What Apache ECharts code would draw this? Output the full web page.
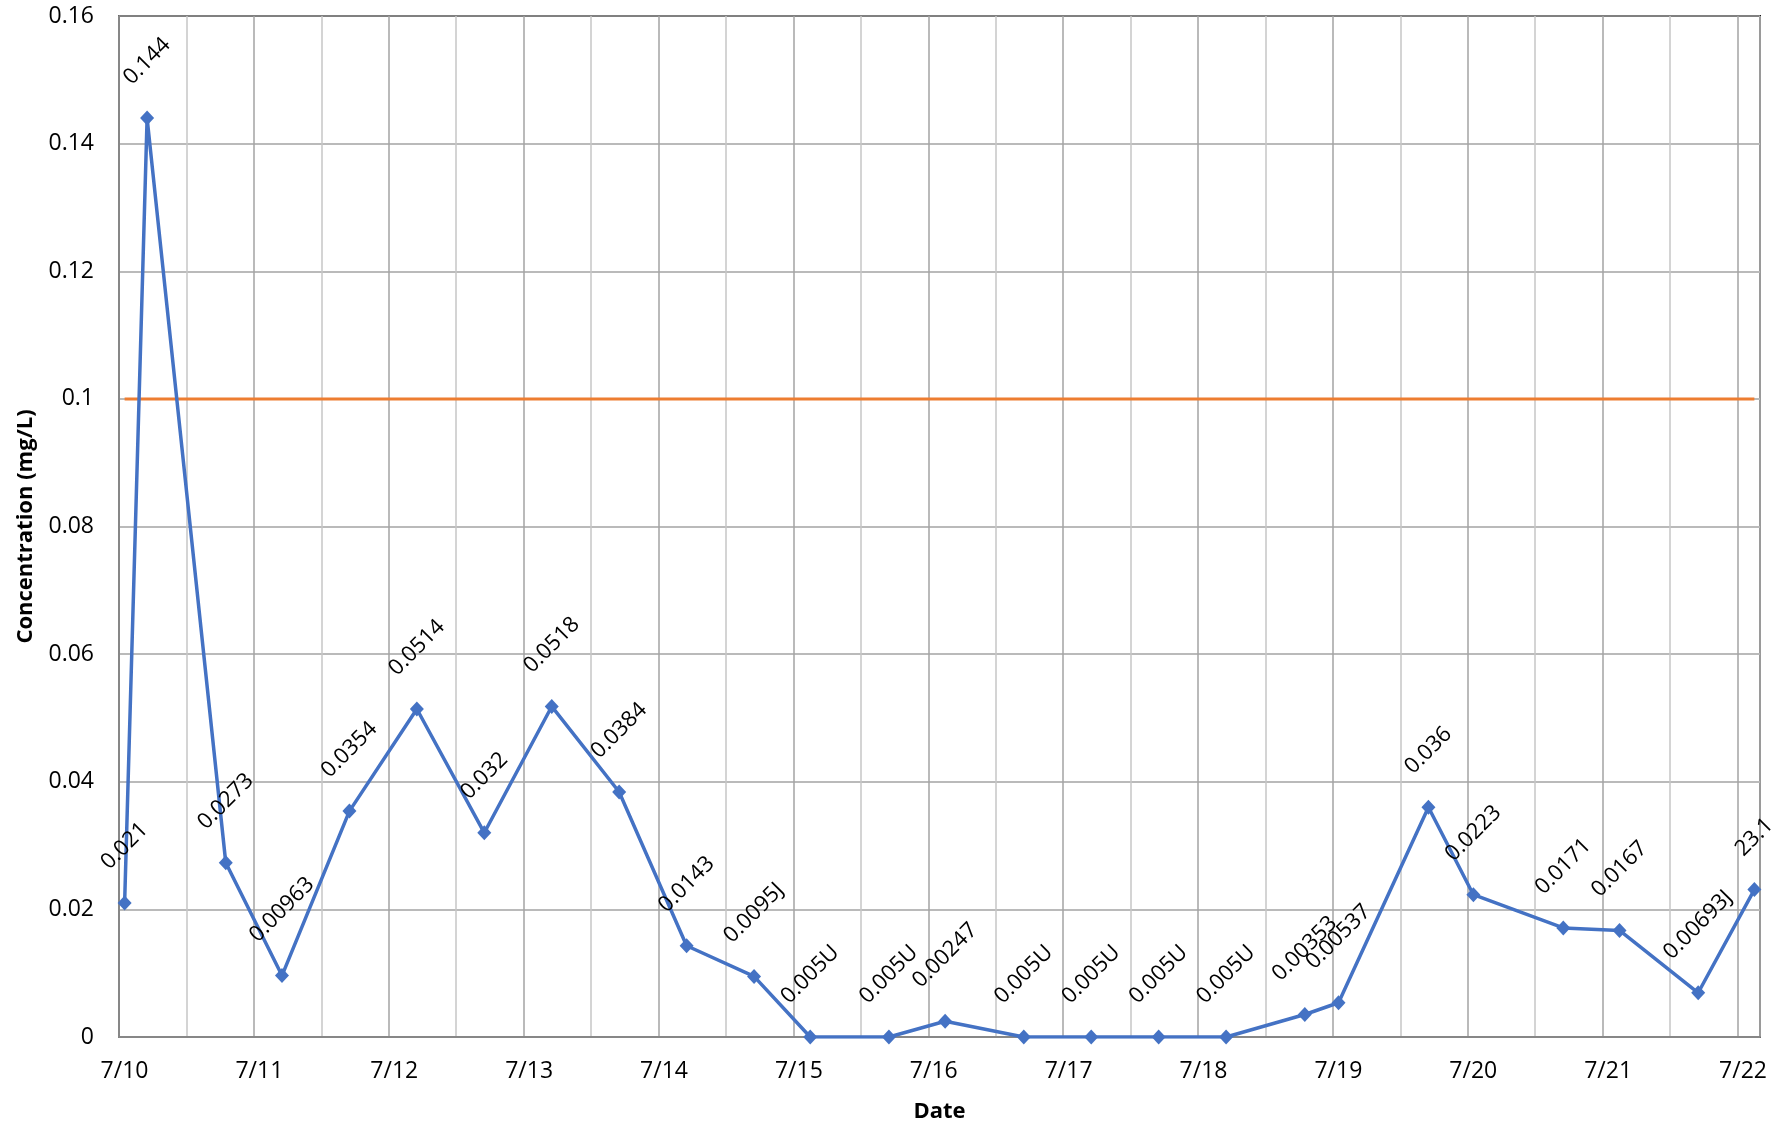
<!DOCTYPE html>
<html>
<head>
<meta charset="utf-8">
<title>Concentration by Date</title>
<script src="https://cdn.jsdelivr.net/npm/echarts@6/dist/echarts.min.js"></script>
<style>
  html, body { margin: 0; padding: 0; background: #ffffff; }
  #chart { width: 1783px; height: 1126px; }
</style>
</head>
<body>
<div id="chart"></div>
<script>
// Sample collection times (month/day hour:minute)
const sampleTimes = [
  '7/10 01:00', '7/10 05:00', '7/10 19:00', '7/11 05:00', '7/11 17:00',
  '7/12 05:00', '7/12 17:00', '7/13 05:00', '7/13 17:00', '7/14 05:00',
  '7/14 17:00', '7/15 03:00', '7/15 17:00', '7/16 03:00', '7/16 17:00',
  '7/17 05:00', '7/17 17:00', '7/18 05:00', '7/18 19:00', '7/19 01:00',
  '7/19 17:00', '7/20 01:00', '7/20 17:00', '7/21 03:00', '7/21 17:00',
  '7/22 03:00'
];

// Plotted concentrations (mg/L); non-detects (U) are plotted at zero
const concentrations = [
  0.021, 0.144, 0.0273, 0.00963, 0.0354,
  0.0514, 0.032, 0.0518, 0.0384, 0.0143,
  0.0095, 0, 0, 0.00247, 0,
  0, 0, 0, 0.00353, 0.00537,
  0.036, 0.0223, 0.0171, 0.0167, 0.00693,
  0.0231
];

// Reported results with lab qualifiers
const reportedLabels = [
  '0.021', '0.144', '0.0273', '0.00963', '0.0354',
  '0.0514', '0.032', '0.0518', '0.0384', '0.0143',
  '0.0095J', '0.005U', '0.005U', '0.00247', '0.005U',
  '0.005U', '0.005U', '0.005U', '0.00353', '0.00537',
  '0.036', '0.0223', '0.0171', '0.0167', '0.00693J',
  '23.1'
];

// Action level (mg/L)
const actionLevel = 0.1;

// Axis tick labels
const dateLabels = ['7/10', '7/11', '7/12', '7/13', '7/14', '7/15', '7/16',
                    '7/17', '7/18', '7/19', '7/20', '7/21', '7/22'];
const yTickLabels = ['0', '0.02', '0.04', '0.06', '0.08', '0.1', '0.12', '0.14', '0.16'];

// Days elapsed since 7/10 00:00
function dayOffset(stamp) {
  const [md, hm] = stamp.split(' ');
  const day = Number(md.split('/')[1]);
  const [h, mi] = hm.split(':').map(Number);
  return (day - 10) + (h + mi / 60) / 24;
}

const FONT = '"Open Sans", "Liberation Sans", sans-serif';
const LABEL_SIZE = 22;
const SYMBOL = 14;

// Rotated labels sit centred above each marker with a fixed gap below them
const measureCtx = document.createElement('canvas').getContext('2d');
measureCtx.font = LABEL_SIZE + 'px "Open Sans"';
function labelDistance(text) {
  const w = measureCtx.measureText(text).width;
  const h = LABEL_SIZE * 0.714;
  return 31 + (w + h) / (2 * Math.SQRT2) - SYMBOL / 2;
}

const xs = sampleTimes.map(dayOffset);
const concentrationData = xs.map((x, i) => ({
  value: [x, concentrations[i]],
  label: { formatter: reportedLabels[i], distance: labelDistance(reportedLabels[i]) }
}));
const actionData = [[xs[0], actionLevel], [xs[xs.length - 1], actionLevel]];

const chart = echarts.init(document.getElementById('chart'), null, { renderer: 'canvas' });

chart.setOption({
  animation: false,
  backgroundColor: '#ffffff',
  textStyle: { fontFamily: FONT },
  grid: {
    left: 119, right: 23, top: 16, bottom: 89,
    outerBoundsMode: 'none',
    show: true, borderColor: '#1a1a1a', borderWidth: 2, backgroundColor: 'transparent'
  },
  xAxis: {
    type: 'value',
    min: 0,
    max: 12 + 4 / 24,
    interval: 0.5,
    name: 'Date',
    nameLocation: 'middle',
    nameGap: 64,
    nameTextStyle: { fontFamily: FONT, fontSize: 22, fontWeight: 'bold', color: '#000' },
    axisLine: { show: true, lineStyle: { color: '#878787', width: 2 } },
    axisTick: { show: false },
    axisLabel: {
      fontFamily: FONT, fontSize: 23, color: '#000', margin: 23,
      padding: [0, 0, 0, 11],
      showMaxLabel: true,
      formatter: function (v) {
        const r = Math.round(v);
        return Math.abs(v - r) < 1e-6 && r >= 0 && r < dateLabels.length ? dateLabels[r] : '';
      }
    },
    splitLine: { show: true, lineStyle: { color: ['#a3a3a3', '#c6c6c6'], width: 1.5 } }
  },
  yAxis: {
    type: 'value',
    min: 0,
    max: 0.16,
    interval: 0.02,
    name: 'Concentration (mg/L)',
    nameLocation: 'middle',
    nameRotate: 90,
    nameGap: 82,
    nameTextStyle: { fontFamily: FONT, fontSize: 22, fontWeight: 'bold', color: '#000' },
    axisLine: { show: true, lineStyle: { color: '#878787', width: 2 } },
    axisTick: { show: false },
    axisLabel: {
      fontFamily: FONT, fontSize: 23, color: '#000', margin: 25,
      formatter: function (v) { return yTickLabels[Math.round(v / 0.02)]; }
    },
    splitLine: { show: true, lineStyle: { color: '#a3a3a3', width: 1.5 } }
  },
  series: [
    {
      name: 'Action Level',
      type: 'line',
      data: actionData,
      showSymbol: false,
      symbol: 'none',
      lineStyle: { color: '#ED7D31', width: 3 },
      z: 3,
      silent: true
    },
    {
      name: 'Concentration',
      type: 'line',
      data: concentrationData,
      symbol: 'diamond',
      symbolSize: [SYMBOL, SYMBOL + 1],
      itemStyle: { color: '#4472C4' },
      lineStyle: { color: '#4472C4', width: 3.5 },
      z: 4,
      label: {
        show: true,
        position: 'top',
        rotate: 45,
        align: 'center',
        verticalAlign: 'middle',
        fontFamily: FONT,
        fontSize: LABEL_SIZE,
        color: '#000'
      }
    }
  ]
});
</script>
</body>
</html>
